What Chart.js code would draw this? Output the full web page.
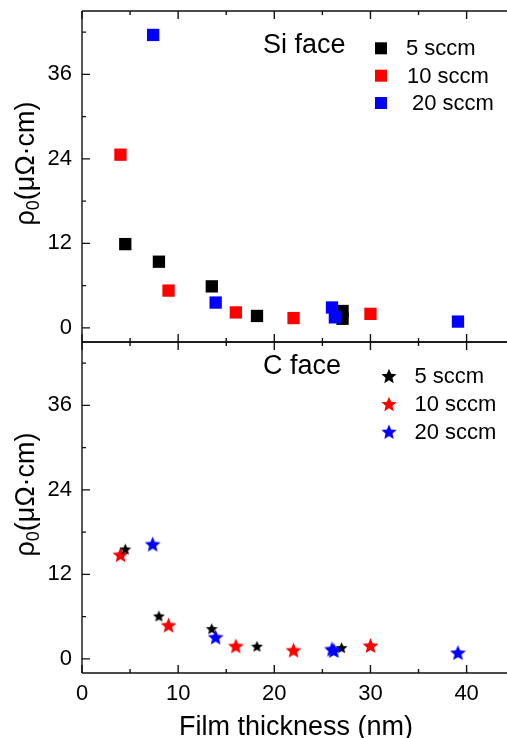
<!DOCTYPE html>
<html>
<head>
<meta charset="utf-8">
<script src="https://cdn.jsdelivr.net/npm/chart.js@4"></script>
<style>
  html, body { margin: 0; padding: 0; background: #fff; }
  #wrap { width: 507px; height: 738px; }
</style>
</head>
<body>
<div id="wrap"><canvas id="rhoChart" width="507" height="738"></canvas></div>
<script>
// tick values
var xTicks = [0, 10, 20, 30, 40];
var xMinor = [5, 15, 25, 35];
var yTicks = [0, 12, 24, 36];
var yMinor = [6, 18, 30, 42];

// Si face (squares)
var si5x = [4.5, 8.0, 13.5, 18.2, 27.1, 27.1];
var si5y = [11.9, 9.4, 5.9, 1.7, 2.4, 1.3];
var si10x = [4.0, 9.0, 16.0, 22.0, 30.0];
var si10y = [24.6, 5.3, 2.2, 1.4, 2.0];
var si20x = [7.4, 13.9, 26.0, 26.3, 39.1];
var si20y = [41.6, 3.6, 2.9, 1.5, 0.9];

// C face (stars)
var c5x = [4.5, 8.0, 13.5, 18.2, 27.0];
var c5y = [15.6, 6.1, 4.3, 1.8, 1.6];
var c10x = [4.0, 9.0, 16.0, 22.0, 30.0];
var c10y = [14.8, 4.8, 1.85, 1.25, 1.9];
var c20x = [7.35, 13.9, 26.0, 26.2, 39.1];
var c20y = [16.3, 3.1, 1.4, 1.2, 0.9];

var seriesLabels = ["5 sccm", "10 sccm", "20 sccm"];
var seriesColors = ["#000000", "#ff0000", "#0000ff"];
// lower value is drawn on top: blue over black over red
var seriesOrder = [1, 2, 0];

var FONT = '"Liberation Sans", Arial, sans-serif';

function pts(xs, ys) {
    return xs.map(function (x, i) { return { x: x, y: ys[i] }; });
}

function makeStar(color, r) {
    var c = document.createElement("canvas");
    var s = Math.ceil(r * 2 + 2);
    c.width = s;
    c.height = s;
    var g = c.getContext("2d");
    g.translate(s / 2, s / 2 + r * 0.095);
    g.beginPath();
    for (var i = 0; i < 10; i++) {
        var rad = i % 2 ? r * 0.45 : r;
        var a = -Math.PI / 2 + i * Math.PI / 5;
        g.lineTo(rad * Math.cos(a), rad * Math.sin(a));
    }
    g.closePath();
    g.fillStyle = color;
    g.fill();
    return c;
}

var starSmallBlack = makeStar("#000000", 6.2);
var starRed = makeStar("#ff0000", 8.3);
var starBlue = makeStar("#0000ff", 8.3);
var legendStars = seriesColors.map(function (c) { return makeStar(c, 8); });

function squareSet(i, data) {
    return {
        label: seriesLabels[i], data: data, yAxisID: "yTop", order: seriesOrder[i],
        pointStyle: "rect", pointRadius: 8.7, pointHoverRadius: 8.7,
        backgroundColor: seriesColors[i], borderColor: seriesColors[i], borderWidth: 0
    };
}
function starSet(i, data, img) {
    return {
        label: seriesLabels[i], data: data, yAxisID: "yBot", order: seriesOrder[i],
        pointStyle: img, pointRadius: 8, pointHoverRadius: 8
    };
}

function fixTicks(vals) {
    return function (scale) {
        scale.ticks = vals.map(function (v) { return { value: v }; });
    };
}

function drawRhoTitle(ctx, cy) {
    ctx.save();
    ctx.translate(34, cy);
    ctx.rotate(-Math.PI / 2);
    var big = "27px " + FONT, small = "18px " + FONT;
    ctx.font = big;
    var w1 = ctx.measureText("ρ").width;
    var w3 = ctx.measureText("(μΩ·cm)").width;
    ctx.font = small;
    var w2 = ctx.measureText("0").width;
    var x = -(w1 + w2 + w3) / 2;
    ctx.fillStyle = "#000";
    ctx.textBaseline = "alphabetic";
    ctx.textAlign = "left";
    ctx.font = big; ctx.fillText("ρ", x, 0); x += w1;
    ctx.font = small; ctx.fillText("0", x, 5); x += w2;
    ctx.font = big; ctx.fillText("(μΩ·cm)", x, 0);
    ctx.restore();
}

var framePlugin = {
    id: "frame",
    afterDraw: function (chart) {
        var ctx = chart.ctx;
        var xs = chart.scales.x;
        var panels = [chart.scales.yTop, chart.scales.yBot];
        var left = xs.left, right = chart.width;
        ctx.save();
        ctx.strokeStyle = "#111";
        ctx.lineWidth = 1.4;
        panels.forEach(function (ys) {
            var top = ys.top, bot = ys.bottom;
            ctx.beginPath();
            ctx.moveTo(left, top); ctx.lineTo(right, top);
            ctx.moveTo(left, bot); ctx.lineTo(right, bot);
            ctx.moveTo(left, top); ctx.lineTo(left, bot);
            ctx.stroke();
            // x ticks, inward on both edges
            ctx.beginPath();
            xTicks.forEach(function (v) {
                var px = xs.getPixelForValue(v);
                ctx.moveTo(px, top); ctx.lineTo(px, top + 8);
                ctx.moveTo(px, bot); ctx.lineTo(px, bot - 8);
            });
            xMinor.forEach(function (v) {
                var px = xs.getPixelForValue(v);
                ctx.moveTo(px, top); ctx.lineTo(px, top + 4);
                ctx.moveTo(px, bot); ctx.lineTo(px, bot - 4);
            });
            // y ticks, inward
            yTicks.forEach(function (v) {
                var py = ys.getPixelForValue(v);
                ctx.moveTo(left, py); ctx.lineTo(left + 8, py);
            });
            yMinor.forEach(function (v) {
                var py = ys.getPixelForValue(v);
                ctx.moveTo(left, py); ctx.lineTo(left + 4, py);
            });
            ctx.stroke();
            drawRhoTitle(ctx, (top + bot) / 2 - 13);
        });

        ctx.fillStyle = "#000";

        // x tick labels
        ctx.font = "22px " + FONT;
        ctx.textAlign = "center";
        ctx.textBaseline = "alphabetic";
        xTicks.forEach(function (v) {
            ctx.fillText(String(v), xs.getPixelForValue(v), 700);
        });

        ctx.textBaseline = "middle";
        ctx.textAlign = "left";

        // panel labels
        ctx.font = "27px " + FONT;
        ctx.fillText("Si face", 263, 46);
        ctx.fillText("C face", 263, 367);

        // legends
        ctx.font = "22px " + FONT;
        var topY = [48.3, 75.7, 103];
        var topTx = [406, 407, 412];
        seriesLabels.forEach(function (lab, i) {
            ctx.fillStyle = seriesColors[i];
            ctx.fillRect(381 - 6, topY[i] - 6, 12, 12);
            ctx.fillStyle = "#000";
            ctx.fillText(lab, topTx[i], topY[i] + 1);
        });
        var botY = [376, 404, 431.7];
        seriesLabels.forEach(function (lab, i) {
            var img = legendStars[i];
            ctx.drawImage(img, 389 - img.width / 2, botY[i] - img.height / 2);
            ctx.fillStyle = "#000";
            ctx.fillText(lab, 414.5, botY[i] + 1);
        });

        // x title
        ctx.textAlign = "center";
        ctx.textBaseline = "alphabetic";
        ctx.font = "27px " + FONT;
        ctx.fillText("Film thickness (nm)", 296, 735);
        ctx.restore();
    }
};

var yScaleBase = function (weight) {
    return {
        type: "linear",
        position: "left",
        stack: "faces",
        stackWeight: 1,
        weight: weight,
        min: -2,
        max: 45,
        afterBuildTicks: fixTicks(yTicks),
        afterFit: function (s) {
            s.width = 82;
            s.paddingTop = 0;
            s.paddingBottom = 0;
        },
        grid: { display: false, drawTicks: false },
        border: { display: false },
        ticks: { color: "#000", padding: 10, font: { family: FONT, size: 22 } }
    };
};

var ctx = document.getElementById("rhoChart").getContext("2d");
var rhoChart = new Chart(ctx, {
    type: "scatter",
    data: {
        datasets: [
            squareSet(0, pts(si5x, si5y)),
            squareSet(1, pts(si10x, si10y)),
            squareSet(2, pts(si20x, si20y)),
            starSet(0, pts(c5x, c5y), starSmallBlack),
            starSet(1, pts(c10x, c10y), starRed),
            starSet(2, pts(c20x, c20y), starBlue)
        ]
    },
    options: {
        responsive: false,
        animation: false,
        devicePixelRatio: 1,
        layout: { autoPadding: false, padding: { top: 11, left: 0, right: 0, bottom: 0 } },
        plugins: {
            legend: { display: false },
            tooltip: { enabled: false }
        },
        scales: {
            x: {
                type: "linear",
                position: "bottom",
                min: 0,
                max: 44.2,
                afterBuildTicks: fixTicks(xTicks),
                afterFit: function (s) {
                    s.height = 65;
                    s.paddingLeft = 0;
                    s.paddingRight = 0;
                },
                grid: { display: false, drawTicks: false },
                border: { display: false },
                ticks: { display: false }
            },
            yTop: yScaleBase(2),
            yBot: yScaleBase(1)
        }
    },
    plugins: [framePlugin]
});
</script>
</body>
</html>
